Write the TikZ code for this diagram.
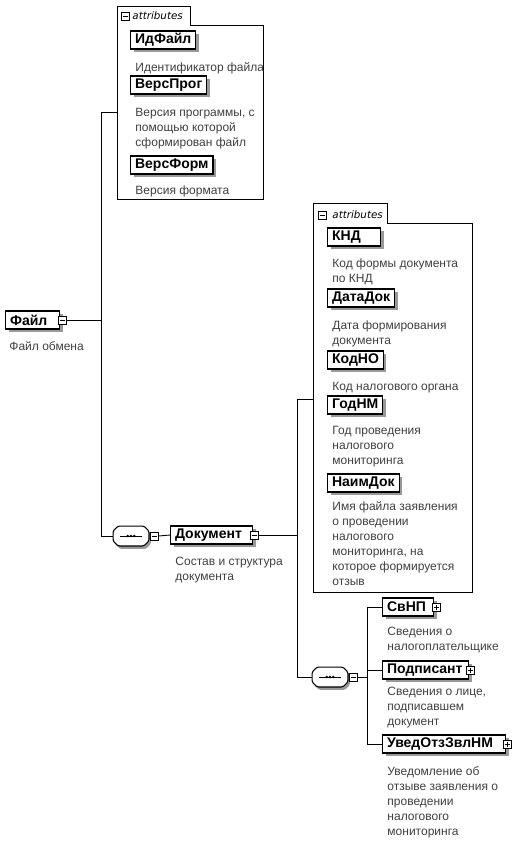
\documentclass[tikz,border=0pt]{standalone}
\usepackage{fontspec}
\setmainfont{Liberation Sans}
\newfontfamily\tabfont{DejaVu Sans}
\usetikzlibrary{shadows}

% octagon frame of a sequence compositor, drawn round node #1
\newcommand{\seqoct}[1]{%
  \draw[seqframe] ([xshift=5pt]#1.north west) -- ([xshift=-5pt]#1.north east)
    -- ([yshift=-5pt]#1.north east) -- ([yshift=5pt]#1.south east)
    -- ([xshift=-5pt]#1.south east) -- ([xshift=5pt]#1.south west)
    -- ([yshift=5pt]#1.south west) -- ([yshift=-5pt]#1.north west) -- cycle;
  \draw ([xshift=7pt]#1.west) -- ([xshift=-7pt]#1.east);
  \foreach \k in {-3.2,0,3.2}
    \fill ([xshift=\k pt]#1.center) circle (1.4pt);}

\begin{document}
\begin{tikzpicture}[x=1pt, y=-1pt, line width=0.9pt,
    elem/.style={draw, line width=1.2pt, fill=white, anchor=west,
      minimum height=18pt, inner xsep=4.5pt, inner ysep=0pt,
      align=left, font=\bfseries\fontsize{14}{16}\selectfont,
      drop shadow={shadow xshift=3pt, shadow yshift=-3pt, fill=black!40, opacity=1}},
    descr/.style={anchor=north west, align=left, inner sep=0pt,
      font=\fontsize{12}{15}\selectfont, text=black!75,
      execute at begin node={\rule{0pt}{10pt}}},
    collapse/.style={draw, line width=0.7pt, fill=white, minimum size=8pt, inner sep=0pt,
      path picture={\draw ([xshift=1.5pt]path picture bounding box.west)
        -- ([xshift=-1.5pt]path picture bounding box.east);}},
    expand/.style={draw, line width=0.7pt, fill=white, minimum size=8pt, inner sep=0pt,
      path picture={\draw ([xshift=1.5pt]path picture bounding box.west)
        -- ([xshift=-1.5pt]path picture bounding box.east);
        \draw ([yshift=1.5pt]path picture bounding box.south)
        -- ([yshift=-1.5pt]path picture bounding box.north);}},
    seqsym/.style={minimum width=35pt, minimum height=19pt, inner sep=0pt},
    seqframe/.style={draw, line width=1.1pt, fill=white, rounded corners=1.5pt,
      drop shadow={shadow xshift=2pt, shadow yshift=-3pt, fill=black!40, opacity=1}},
    attrframe/.style={draw, line width=0.8pt, fill=white},
    tabtext/.style={anchor=west, inner sep=0pt, font=\tabfont\itshape\fontsize{10.3}{12}\selectfont}]
  \useasboundingbox (0,0) rectangle (512,842);

  % attribute groups
  \draw[attrframe] (117,6) -| (190,25) -| (263,199) -- (117,199) -- cycle;
  \node (tabAicon) at (125,16) [collapse] {};
  \node (tabA) at (132,16) [tabtext] {attributes};
  \coordinate (attrAin) at (117,112);

  \draw[attrframe] (313,203) -| (387,223) -| (472,592) -- (313,592) -- cycle;
  \node (tabBicon) at (322.5,215) [collapse] {};
  \node (tabB) at (332,215) [tabtext] {attributes};
  \coordinate (attrBin) at (313,399);

  % root
  \node (file) at (5,320) [elem, text width=45pt] {Файл};
  \node (fileicon) at ([xshift=2pt]file.east) [collapse] {};
  \node (filedesc) at (9,340) [descr] {Файл обмена};

  % attributes of Файл
  \node (idfile) at (130,40) [elem] {ИдФайл};
  \node (idfiledesc) at (135,61.5) [descr] {Идентификатор файла};
  \node (versprog) at (130,85) [elem] {ВерсПрог};
  \node (versprogdesc) at (135,107.5) [descr] {Версия программы, с\\помощью которой\\сформирован файл};
  \node (versform) at (130,165) [elem] {ВерсФорм};
  \node (versformdesc) at (135,184.5) [descr] {Версия формата};

  % sequence of Файл
  \node (seqA) at (131,536) [seqsym] {};
  \seqoct{seqA}
  \node (seqAicon) at ([xshift=5.5pt]seqA.east) [collapse] {};
  \node (doc) at (170,535) [elem, text width=73pt] {Документ};
  \node (docicon) at ([xshift=1pt]doc.east) [collapse] {};
  \node (docdesc) at (175,557) [descr] {Состав и структура\\документа};

  % attributes of Документ
  \node (knd) at (327,237) [elem, text width=44pt] {КНД};
  \node (knddesc) at (332,258) [descr] {Код формы документа\\по КНД};
  \node (datadok) at (327,298) [elem] {ДатаДок};
  \node (datadokdesc) at (332,320) [descr] {Дата формирования\\документа};
  \node (kodno) at (327,360) [elem] {КодНО};
  \node (kodnodesc) at (332,380) [descr] {Код налогового органа};
  \node (godnm) at (327,405) [elem] {ГодНМ};
  \node (godnmdesc) at (332,426) [descr] {Год проведения\\налогового\\мониторинга};
  \node (naimdok) at (327,483) [elem] {НаимДок};
  \node (naimdokdesc) at (332,501) [descr] {Имя файла заявления\\о проведении\\налогового\\мониторинга, на\\которое формируется\\отзыв};

  % sequence of Документ
  \node (seqB) at (330,677) [seqsym] {};
  \seqoct{seqB}
  \node (seqBicon) at ([xshift=5.5pt]seqB.east) [collapse] {};
  \node (svnp) at (382,607) [elem, text width=42pt] {СвНП};
  \node (svnpicon) at ([xshift=2pt]svnp.east) [expand] {};
  \node (svnpdesc) at (387,627) [descr] {Сведения о\\налогоплательщике};
  \node (podp) at (382,670) [elem, text width=77pt] {Подписант};
  \node (podpicon) at ([xshift=1pt]podp.east) [expand] {};
  \node (podpdesc) at (387,687) [descr] {Сведения о лице,\\подписавшем\\документ};
  \node (uved) at (382,744) [elem, text width=114pt] {УведОтзЗвлНМ};
  \node (uvedicon) at ([xshift=1pt]uved.east) [expand] {};
  \node (uveddesc) at (387,766) [descr] {Уведомление об\\отзыве заявления о\\проведении\\налогового\\мониторинга};

  % connectors
  \coordinate (jA) at (101,112);
  \coordinate (jB) at (297,399);
  \coordinate (jC) at (367,607);
  \draw (attrAin) -- (jA) |- (seqA.west);
  \draw (fileicon.east) -- (fileicon.east -| jA);
  \draw (seqAicon.east) -- (doc.west);
  \draw (attrBin) -- (jB) |- (seqB.west);
  \draw (docicon.east) -- (docicon.east -| jB);
  \draw (seqBicon.east) -- (seqBicon.east -| jC);
  \draw (svnp.west) -- (jC) |- (uved.west);
  \draw (podp.west) -- (podp.west -| jC);
\end{tikzpicture}
\end{document}
